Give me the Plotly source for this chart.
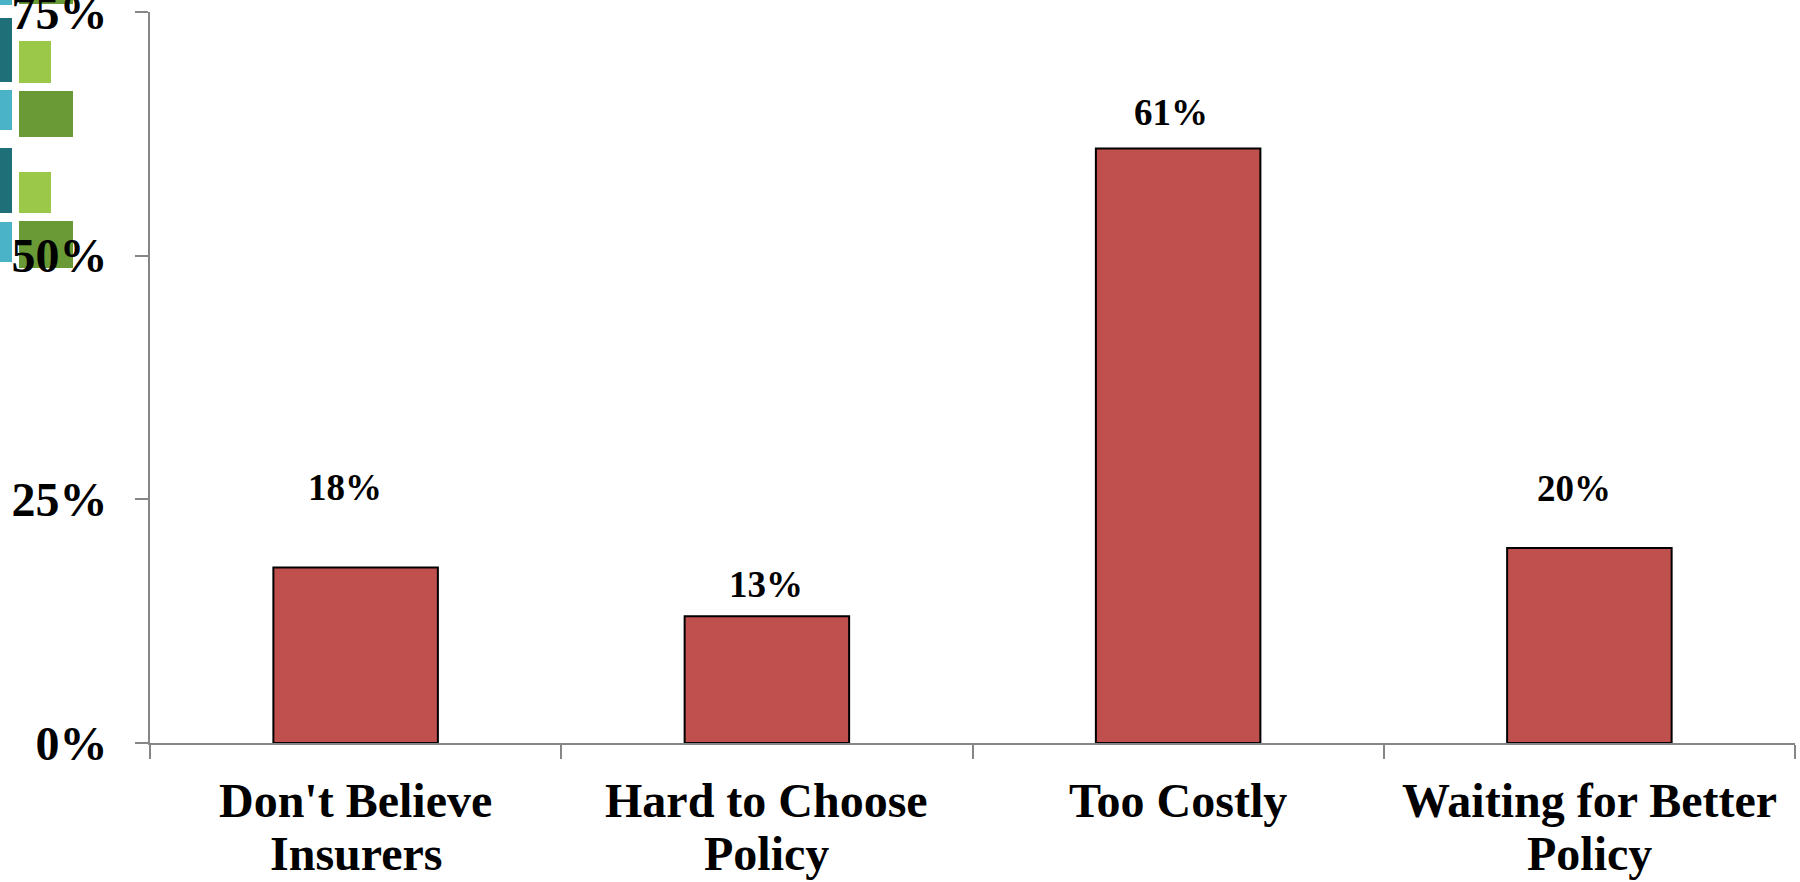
import plotly.graph_objects as go

categories = ["Don't Believe<br>Insurers", "Hard to Choose<br>Policy", "Too Costly", "Waiting for Better<br>Policy"]
values = [18, 13, 61, 20]
value_labels = ["18%", "13%", "61%", "20%"]
y_tick_vals = [0, 25, 50, 75]
y_tick_text = ["0%", "25%", "50%", "75%"]

# label placement offsets (pixels) – styling only
label_yshift = [80, 32, 36, 60]
label_xshift = [-11, -1, -7, -15]
cat_line_yshift = [-57, -110]

FONT = "Liberation Serif"
BAR_COLOR = "#C0504D"
AXIS_COLOR = "#868686"

fig = go.Figure()
fig.add_trace(go.Bar(
    x=categories, y=values, width=0.4,
    marker=dict(color=BAR_COLOR, line=dict(color="#000000", width=2)),
    hoverinfo="skip",
))

for c, v, t, ys, xs in zip(categories, values, value_labels, label_yshift, label_xshift):
    fig.add_annotation(x=c, y=v, text=f"<b>{t}</b>", showarrow=False,
                       yshift=ys, xshift=xs, yanchor="middle", xanchor="center",
                       font=dict(family=FONT, size=37, color="#000000"))

# category labels (one annotation per line for tight Excel-like line spacing)
for c in categories:
    for i, line in enumerate(c.split("<br>")):
        fig.add_annotation(x=c, xref="x", y=0, yref="paper", text=f"<b>{line}</b>",
                           showarrow=False, yshift=cat_line_yshift[i],
                           yanchor="middle", xanchor="center",
                           font=dict(family=FONT, size=48, color="#000000"))

# decorative logo in top-left corner (background)
logo = [
    (0, 18, 12, 82, "#1f6f78"), (0, 90, 12, 130, "#4ab3c8"),
    (0, 148, 12, 213, "#1f6f78"), (0, 222, 12, 262, "#4ab3c8"),
    (19, 41, 51, 83, "#9cc84a"), (19, 91, 73, 137, "#6a9a35"),
    (19, 172, 51, 213, "#9cc84a"), (19, 221, 73, 268, "#6a9a35"),
    (0, 0, 12, 5, "#4ab3c8"), (19, 0, 73, 4, "#6a9a35"),
]
W, H = 1800, 882
for x0, y0, x1, y1, col in logo:
    fig.add_shape(type="rect", xref="paper", yref="paper",
                  x0=(x0 - 150) / 1645, x1=(x1 - 150) / 1645,
                  y0=(743 - y1) / 731, y1=(743 - y0) / 731,
                  fillcolor=col, line=dict(width=0), layer="below")

fig.update_layout(
    width=W, height=H,
    margin=dict(l=150, r=5, t=12, b=139, autoexpand=False),
    paper_bgcolor="white", plot_bgcolor="white",
    showlegend=False,
    bargap=0.6,
    font=dict(family=FONT, color="#000000"),
)
fig.update_xaxes(
    type="category", range=[-0.5, 3.5], automargin=False,
    showline=True, linecolor=AXIS_COLOR, linewidth=2,
    ticks="outside", tickson="boundaries", ticklen=14, tickcolor=AXIS_COLOR, tickwidth=1.5,
    showticklabels=False,
    showgrid=False, zeroline=False,
)
fig.update_yaxes(
    range=[0, 75], automargin=False, ticklabeloverflow="allow",
    tickvals=y_tick_vals, ticktext=[f"<b>{t}</b>" for t in y_tick_text],
    showline=True, linecolor=AXIS_COLOR, linewidth=2,
    ticks="outside", ticklen=13, tickcolor=AXIS_COLOR, tickwidth=1.5,
    tickfont=dict(family=FONT, size=48, color="#000000"),
    ticklabelstandoff=18,
    showgrid=False, zeroline=False,
)

fig.write_html("out.html")
